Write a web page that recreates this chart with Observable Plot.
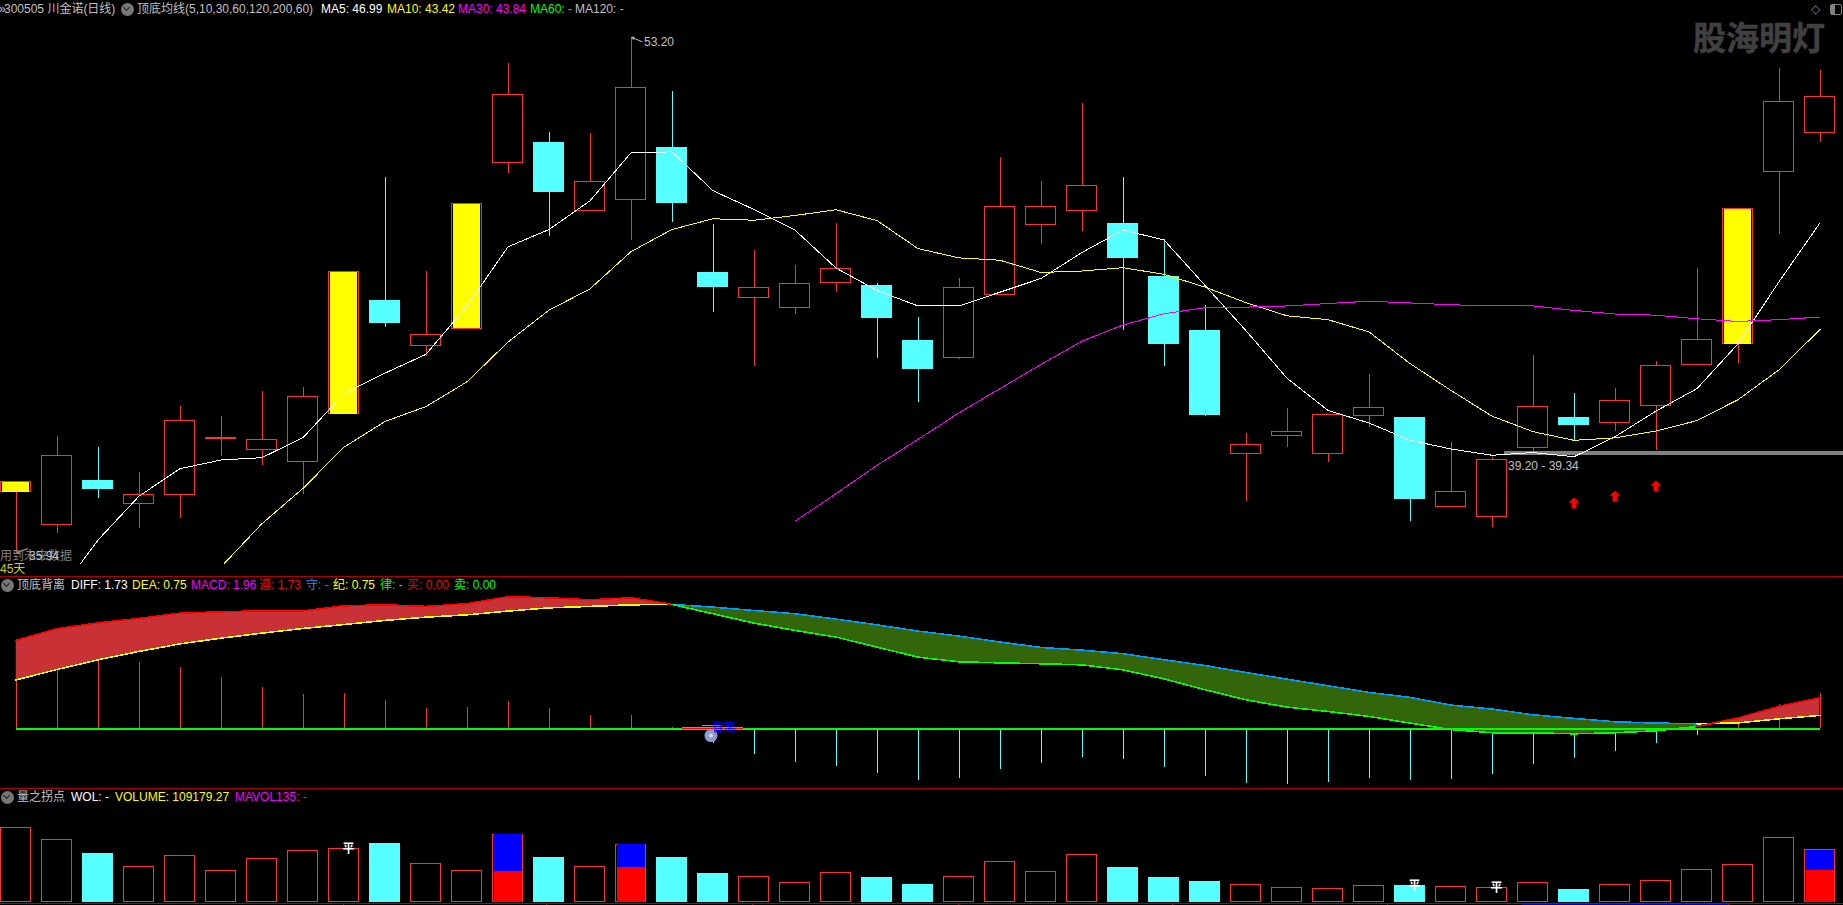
<!DOCTYPE html>
<html lang="zh">
<head>
<meta charset="utf-8">
<title>川金诺(日线)</title>
<script src="https://cdn.jsdelivr.net/npm/d3@7"></script>
<script src="https://cdn.jsdelivr.net/npm/@observablehq/plot@0.6"></script>
<style>
html,body{margin:0;padding:0;background:#000;overflow:hidden;width:1843px;height:905px}
#stage{position:relative;width:1843px;height:905px;background:#000;overflow:hidden}
#stage svg{position:absolute;left:0;display:block}
.t{position:absolute;white-space:pre;transform:translateY(-50%);font:12px/14px "Liberation Sans","Noto Sans CJK SC",sans-serif}
.sep{position:absolute;left:0;width:1843px;height:1px;background:#b00000}
.ic{position:absolute;width:13px;height:13px;border-radius:50%;background:#777}
.ic::after{content:"";position:absolute;left:3.5px;top:2.5px;width:4px;height:4px;border-right:1.5px solid #222;border-bottom:1.5px solid #222;transform:rotate(45deg)}
</style>
</head>
<body>
<div id="stage"></div>
<script>
// ---- candles (prices)
const kind = ["Y","R","C","R","R","R","R","R","Y","C","R","Y","R","C","R","R","C","C","R","R","R","C","C","R","R","R","R","C","C","C","R","R","R","R","C","R","R","R","C","R","R","R","Y","R","R"];
const high = [38.30,39.83,39.47,38.63,40.84,40.51,41.34,41.47,45.33,48.51,45.36,47.61,52.33,50.02,49.99,53.20,51.39,46.94,46.05,45.56,46.98,44.95,43.83,45.13,49.18,48.38,50.99,48.51,46.43,44.24,39.94,40.77,40.56,41.91,40.47,39.64,39.12,42.54,41.28,41.44,42.34,45.46,47.44,52.17,52.10];
const bodyTop = [38.30,39.19,38.36,37.89,40.37,39.79,39.72,41.16,45.33,44.39,43.24,47.61,51.28,49.69,48.37,51.51,49.51,45.33,44.82,44.95,45.45,44.90,43.05,44.82,47.53,47.53,48.23,46.98,45.20,43.39,39.56,40.00,40.56,40.79,40.47,37.98,39.05,40.83,40.47,41.04,42.20,43.08,47.44,51.05,51.21];
const bodyBottom = [37.97,36.87,38.06,37.58,37.88,39.74,39.38,39.00,40.59,43.62,42.86,43.44,49.01,48.01,47.39,47.76,47.64,44.83,44.47,44.15,44.97,43.79,42.09,42.47,44.58,46.92,47.38,45.80,42.92,40.54,39.25,39.85,39.25,40.52,37.73,37.47,37.14,39.44,40.21,40.29,40.86,42.22,42.93,48.69,50.00];
const low = [35.94,36.60,37.76,36.77,37.10,39.17,38.85,37.91,40.59,43.50,42.52,43.44,48.63,46.55,47.39,46.41,47.01,43.99,42.19,43.92,44.66,42.46,40.98,42.42,44.58,46.27,46.70,43.40,42.19,40.51,37.66,39.47,38.97,40.14,36.99,37.47,36.79,39.34,39.71,40.01,39.36,42.22,42.28,46.61,49.69];
// ---- moving averages (first day each one is drawn for)
const ma5Start = 1;
const ma5 = [34.51,36.37,37.84,38.76,39.05,39.13,39.80,41.27,41.96,42.59,44.21,46.19,46.77,47.73,49.34,49.37,48.07,47.44,46.75,45.48,44.73,44.21,44.21,44.67,45.13,46.00,46.75,46.42,44.90,43.38,41.79,40.71,40.29,39.71,39.42,39.21,39.30,39.16,39.83,40.69,41.44,42.94,45.02,46.99];
const ma10Start = 5;
const ma10 = [35.47,36.92,38.10,39.48,40.34,40.84,41.67,43.00,44.07,44.78,46.03,46.77,47.13,47.08,47.24,47.43,47.07,46.13,45.82,45.74,45.33,45.38,45.49,45.27,44.84,44.32,43.88,43.75,43.34,42.28,41.38,40.52,40.00,39.71,39.79,40.02,40.37,41.07,42.07,43.42];
const ma30Start = 19;
const ma30 = [37.00,37.92,38.87,39.74,40.63,41.44,42.25,43.03,43.57,43.95,44.15,44.17,44.21,44.29,44.37,44.31,44.25,44.21,44.21,44.06,43.94,43.90,43.78,43.69,43.75,43.84];
const supportLow = 39.20, supportHigh = 39.34, supportFromDay = 36.3;
const arrowDays = [38,39,40];
const arrowPrices = [37.61,37.84,38.18];
// ---- MACD pane
const diff = [4.93,5.58,5.91,6.16,6.45,6.53,6.58,6.58,6.86,6.92,6.83,6.98,7.37,7.31,7.20,7.31,6.94,6.42,5.90,5.49,5.12,4.56,4.00,3.74,3.68,3.63,3.57,3.29,2.79,2.18,1.62,1.21,0.97,0.69,0.32,-0.04,-0.22,-0.22,-0.28,-0.22,-0.11,0.13,0.60,1.25,1.73];
const dea = [2.73,3.31,3.85,4.32,4.74,5.06,5.34,5.60,5.82,6.05,6.23,6.36,6.57,6.75,6.83,6.92,6.94,6.79,6.60,6.42,6.12,5.80,5.45,5.17,4.84,4.54,4.39,4.19,3.85,3.53,3.14,2.77,2.40,2.03,1.75,1.32,1.10,0.78,0.58,0.39,0.32,0.28,0.33,0.56,0.75];
const macd = [4.39,4.54,4.13,3.70,3.42,2.86,2.31,1.92,1.97,1.58,1.13,1.19,1.53,1.13,0.74,0.74,0.07,-0.80,-1.43,-1.88,-2.10,-2.49,-2.88,-2.77,-2.27,-1.93,-1.60,-1.71,-2.16,-2.66,-3.05,-3.11,-2.99,-2.77,-2.88,-2.83,-2.55,-1.99,-1.66,-1.26,-0.82,-0.37,0.60,1.38,1.96];
const runFrom = [0,16,41], runTo = [16,41,44];
const runDiffColor = ["#ff0000","#00ff00","#ff0000"];
const runDeaColor = ["#ffff00","#0099ff","#ffff00"];
// ---- volume pane
const volume = [155400,130200,101500,73500,96600,65100,90300,107100,111300,122500,79800,65100,141400,93100,73500,120400,93100,59500,52500,39900,60900,51100,36400,52500,84000,63000,98700,72100,51100,42700,35700,29400,27300,33600,34300,31500,29400,39900,25900,35700,44100,67200,77700,134400,109179];
const splitDays = [12,15,44];
const splitRed = [63700,72100,65800];
const flatDays = [8,34,36];

// ---- palette
const RED="#ff3232", CYAN="#55ffff", YELLOW="#ffff00";
const days = d3.range(high.length);
const rows = days.map(d => ({d, k:kind[d], high:high[d], top:bodyTop[d], bot:bodyBottom[d], low:low[d]}));
const HW = 15/41, HWC = 15.5/41;  // half a body, in days
const X = {domain:[0,44], range:[15.5,1819.5]};
const stage = document.getElementById("stage");
const series = (arr,start=0) => arr.map((v,i)=>({d:i+start,v}));
const baseOpts = {width:1843, marginLeft:0, marginRight:0, marginTop:0, x:{...X,axis:null}, style:{background:"#000"}};
const crisp = {shapeRendering:"crispEdges"};
const colorOf = k => k==="C"?CYAN:RED;

// custom up-arrow symbol
const upArrow = {draw(c,size){const s=Math.sqrt(size/Math.PI);
  c.moveTo(0,-s);c.lineTo(s,-s*0.05);c.lineTo(s*0.45,-s*0.05);c.lineTo(s*0.45,s);c.lineTo(-s*0.45,s);c.lineTo(-s*0.45,-s*0.05);c.lineTo(-s,-s*0.05);c.closePath();}};

// ---- main pane
const main = Plot.plot({...baseOpts, height:577, marginBottom:13,
  y:{domain:[35.551,54.439],axis:null},
  marks:[
    Plot.rect([{}],{x1:supportFromDay,x2:44.6,y1:supportLow,y2:supportHigh,fill:"#808080",...crisp}),
    Plot.ruleX(rows,{x:"d",y1:"low",y2:"high",stroke:r=>colorOf(r.k),strokeWidth:1,...crisp}),
    Plot.rect(rows.filter(r=>r.k!=="C"),{x1:r=>r.d-HW,x2:r=>r.d+HW,y1:"bot",y2:"top",fill:"#000",stroke:RED,strokeWidth:1,...crisp}),
    Plot.rect(rows.filter(r=>r.k==="C"),{x1:r=>r.d-HWC,x2:r=>r.d+HWC,y1:"bot",y2:"top",fill:CYAN,...crisp}),
    Plot.rect(rows.filter(r=>r.k==="Y"),{x1:r=>r.d-HW,x2:r=>r.d+HW,y1:"bot",y2:"top",fill:YELLOW,insetLeft:1.5,insetRight:1.5,...crisp}),
    Plot.line(series(ma5,ma5Start),{x:"d",y:"v",stroke:"#ffffff",strokeWidth:1,clip:true,...crisp}),
    Plot.line(series(ma10,ma10Start),{x:"d",y:"v",stroke:YELLOW,strokeWidth:1,clip:true,...crisp}),
    Plot.line(series(ma30,ma30Start),{x:"d",y:"v",stroke:"#ff00ff",strokeWidth:1,clip:true,...crisp}),
    Plot.dot(arrowDays.map((d,i)=>({d,v:arrowPrices[i]})),{x:"d",y:"v",symbol:upArrow,r:5.5,fill:"#ff0000",stroke:"none"}),
    Plot.arrow([{}],{x1:15.27,y1:53.06,x2:15.02,y2:53.2,stroke:"#c0c0c0",strokeWidth:1,bend:0,headLength:4}),
    Plot.arrow([{}],{x1:0.28,y1:36.08,x2:0.02,y2:35.94,stroke:"#c0c0c0",strokeWidth:1,bend:0,headLength:4})
  ]});
main.style.top="0px"; stage.appendChild(main);

// ---- MACD pane
const macdRows = days.map(d=>({d,diff:diff[d],dea:dea[d],macd:macd[d]}));
const runLines = runFrom.flatMap((a,i)=>{
  const seg = macdRows.filter(r=>r.d>=a && r.d<=runTo[i]);
  return [
    Plot.line(seg,{x:"d",y:"dea",stroke:runDeaColor[i],strokeWidth:1.6,...crisp}),
    Plot.line(seg,{x:"d",y:"diff",stroke:runDiffColor[i],strokeWidth:1.6,...crisp})
  ];
});
const macdPlot = Plot.plot({...baseOpts, height:211, marginBottom:0,
  y:{domain:[-3.331,8.443],axis:null},
  marks:[
    Plot.ruleX(macdRows,{x:"d",y1:0,y2:"macd",stroke:r=>r.macd>=0?RED:CYAN,strokeWidth:1,...crisp}),
    Plot.differenceY(macdRows,{x:"d",y1:"dea",y2:"diff",positiveFill:"#c83237",negativeFill:"#33650a",fillOpacity:1,stroke:"none"}),
    ...runLines,
    Plot.ruleY([0],{x1:0,x2:44,stroke:"#00ff00",strokeWidth:1.5,...crisp}),
    Plot.ruleY([0],{x1:16.26,x2:17.74,stroke:"#ff0000",strokeWidth:1,...crisp}),
    Plot.ruleY([0.1],{x1:16.26,x2:17.74,stroke:"#00ff00",strokeWidth:1,...crisp}),
    Plot.ruleY([0.17],{x1:16.74,x2:17.25,stroke:"#00ff00",strokeWidth:1,...crisp}),
    Plot.dot([{}],{x:16.95,y:-0.38,r:6.5,fill:"#8a9bdc",stroke:"none"}),
    Plot.dot([{}],{x:16.95,y:-0.38,r:2,fill:"#f0dc96",stroke:"none"})
  ]});
macdPlot.style.top="577px"; stage.appendChild(macdPlot);

// ---- volume pane
const volRows = days.map(d=>({d,k:kind[d],v:volume[d]}));
const splitRows = splitDays.map((d,i)=>({d,red:splitRed[i],v:volume[d]}));
const volPlot = Plot.plot({...baseOpts, height:117, marginBottom:3.5,
  y:{domain:[0,238350],axis:null},
  marks:[
    Plot.rect(volRows.filter(r=>r.k!=="C"),{x1:r=>r.d-HW,x2:r=>r.d+HW,y1:0,y2:"v",fill:"#000",stroke:RED,strokeWidth:1,...crisp}),
    Plot.rect(volRows.filter(r=>r.k==="C"),{x1:r=>r.d-HWC,x2:r=>r.d+HWC,y1:0,y2:"v",fill:CYAN,...crisp}),
    Plot.rect(splitRows,{x1:r=>r.d-HW,x2:r=>r.d+HW,y1:0,y2:"red",fill:"#ff0000",insetLeft:1,insetRight:1,...crisp}),
    Plot.rect(splitRows,{x1:r=>r.d-HW,x2:r=>r.d+HW,y1:"red",y2:"v",fill:"#0000ff",insetLeft:1,insetRight:1,...crisp}),
    Plot.text(flatDays,{x:d=>d,y:d=>volume[d],text:()=>"平",fill:"#fff",dx:4.5,fontSize:12,fontFamily:'"Noto Sans CJK SC"',fontWeight:"bold"})
  ]});
volPlot.style.top="788px"; stage.appendChild(volPlot);

// ---- pane furniture and text
[576,788,903].forEach(y=>{const s=document.createElement("div");s.className="sep";s.style.top=y+"px";stage.appendChild(s);});
[343,546,752,958,1172,1387,1728].forEach(x=>{const s=document.createElement("div");
  Object.assign(s.style,{position:"absolute",left:x+"px",top:"903px",width:"1px",height:"2px",background:"#b00000"});stage.appendChild(s);});
const strip=document.createElement("div");
Object.assign(strip.style,{position:"absolute",left:"1522px",top:"904px",width:"206px",height:"1px",background:"#0000c0"});stage.appendChild(strip);
function label(x,y,text,color,extra){
  const s=document.createElement("span");s.className="t";s.textContent=text;
  s.style.left=x+"px";s.style.top=y+"px";s.style.color=color;
  if(extra) Object.assign(s.style,extra);
  stage.appendChild(s);return s;
}
function icon(x,y){const i=document.createElement("div");i.className="ic";i.style.left=(x-6.5)+"px";i.style.top=(y-6.5)+"px";stage.appendChild(i);}
const GREY="#c0c0c0";
label(-1,9,"»",GREY);
label(4,9,"300505 川金诺(日线)",GREY);
icon(127,9);
label(137,9,"顶底均线(5,10,30,60,120,200,60)",GREY);
label(321,9,"MA5: 46.99","#ffffff");
label(387,9,"MA10: 43.42","#ffff00");
label(458,9,"MA30: 43.84","#ff00ff");
label(530,9,"MA60: -","#00ff00");
label(575,9,"MA120: -",GREY);
label(644,42,"53.20",GREY);
label(1508,466,"39.20 - 39.34",GREY);
label(0,556,"用到未来数据","#808080");
label(29,556,"35.94",GREY);
label(0,569,"45天","#d0d000");
label(1693,36,"股海明灯","#404040",{font:'bold 33px/34px "Noto Sans CJK SC"',webkitTextStroke:"0.5px #404040"});
label(1811,9,"◇","#808080",{font:'12px/14px "DejaVu Sans"'});
const box=document.createElement("div");
Object.assign(box.style,{position:"absolute",left:"1830px",top:"4px",width:"10px",height:"9px",border:"1px solid #808080",borderRadius:"2px",background:"linear-gradient(90deg,#808080 40%,#000 40%)"});
stage.appendChild(box);

icon(7,585);
label(17,585,"顶底背离",GREY);
label(71,585,"DIFF: 1.73","#ffffff");
label(132,585,"DEA: 0.75","#ffff00");
label(191,585,"MACD: 1.96","#ff00ff");
label(259,585,"遵: 1.73","#ff0000");
label(306,585,"守: -","#1e90ff");
label(333,585,"纪: 0.75","#ffff00");
label(380,585,"律: -","#00ff00");
label(407,585,"买: 0.00","#ff0000");
label(454,585,"卖: 0.00","#00ff00");
label(712,728,"背离","#0000ff");

icon(7,797);
label(17,797,"量之拐点",GREY);
label(71,797,"WOL: -","#ffffff");
label(115,797,"VOLUME: 109179.27","#ffff00");
label(235,797,"MAVOL135: -","#ff00ff");
</script>
</body>
</html>
